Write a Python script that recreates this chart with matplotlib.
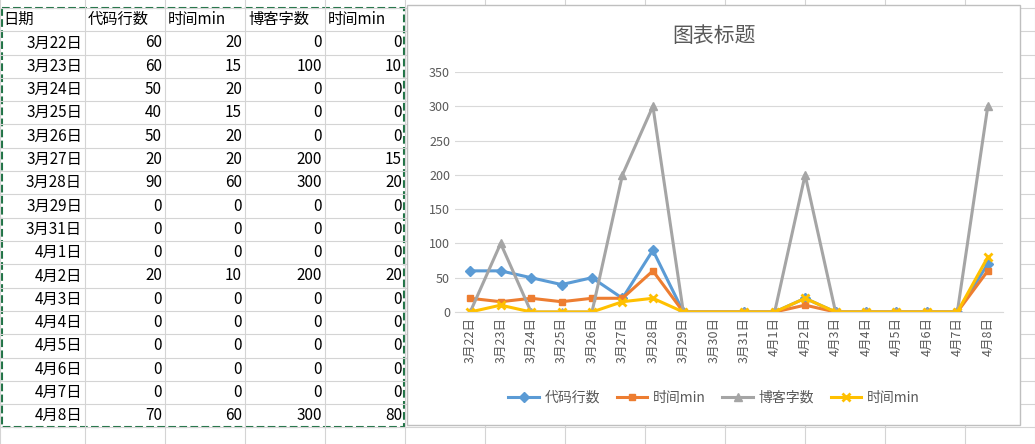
import numpy as np
import matplotlib.pyplot as plt
from matplotlib import font_manager
from matplotlib.patches import Rectangle

# find a CJK font by file in case the family name is not registered
cjk = [f for f in font_manager.findSystemFonts() if 'CJK' in f or 'cjk' in f.lower()]
fams = []
for f in cjk:
    try:
        font_manager.fontManager.addfont(f)
        fams.append(font_manager.FontProperties(fname=f).get_name())
    except Exception:
        pass
plt.rcParams['font.family'] = ['Noto Sans CJK SC', 'Noto Sans CJK JP'] + fams + ['DejaVu Sans']

headers = ['日期', '代码行数', '时间min', '博客字数', '时间min']
dates = ['3月22日', '3月23日', '3月24日', '3月25日', '3月26日', '3月27日', '3月28日', '3月29日',
         '3月31日', '4月1日', '4月2日', '4月3日', '4月4日', '4月5日', '4月6日', '4月7日', '4月8日']
code_lines = [60, 60, 50, 40, 50, 20, 90, 0, 0, 0, 20, 0, 0, 0, 0, 0, 70]
code_time = [20, 15, 20, 15, 20, 20, 60, 0, 0, 0, 10, 0, 0, 0, 0, 0, 60]
blog_words = [0, 100, 0, 0, 0, 200, 300, 0, 0, 0, 200, 0, 0, 0, 0, 0, 300]
blog_time = [0, 10, 0, 0, 0, 15, 20, 0, 0, 0, 20, 0, 0, 0, 0, 0, 80]
axis_labels = ['3月22日', '3月23日', '3月24日', '3月25日', '3月26日', '3月27日', '3月28日', '3月29日',
               '3月30日', '3月31日', '4月1日', '4月2日', '4月3日', '4月4日', '4月5日', '4月6日',
               '4月7日', '4月8日']

W, H = 1035, 444
fig = plt.figure(figsize=(W / 100, H / 100), dpi=100)
bg = fig.add_axes([0, 0, 1, 1])
bg.set_xlim(0, W)
bg.set_ylim(H, 0)
bg.axis('off')

# spreadsheet grid
col_x = [0, 85, 165, 245, 325, 405, 485, 565, 645, 725, 805, 885, 965, 1035]
row_h = 23.3
for x in col_x:
    bg.plot([x, x], [0, H], color='#d4d4d4', lw=0.8)
for i in range(20):
    y = 8 + i * row_h
    bg.plot([0, W], [y, y], color='#d4d4d4', lw=0.8)

# table text
for j, h in enumerate(headers):
    bg.text(col_x[j] + 3, 8 + row_h / 2, h, ha='left', va='center', fontsize=11)
cols = [code_lines, code_time, blog_words, blog_time]
for i, d in enumerate(dates):
    yc = 8 + (i + 1.5) * row_h
    bg.text(col_x[1] - 3, yc, d, ha='right', va='center', fontsize=11)
    for j, c in enumerate(cols):
        bg.text(col_x[j + 2] - 3, yc, str(c[i]), ha='right', va='center', fontsize=11)
bg.add_patch(Rectangle((2, 8), 402, 18 * row_h, fill=False, ec='#217346', lw=1.5, ls='--'))

# chart panel
bg.add_patch(Rectangle((407, 5), 613, 420, fc='white', ec='#bfbfbf', lw=1, zorder=3))
bg.text(714, 36, '图表标题', ha='center', va='center', fontsize=15, color='#595959', zorder=4)

ax = fig.add_axes([455 / W, 1 - 312 / H, 548 / W, 240 / H], zorder=5)
ax.patch.set_alpha(0)
x = [axis_labels.index(d) for d in dates]
series = [(code_lines, '代码行数', '#5B9BD5', 'D', 5),
          (code_time, '时间min', '#ED7D31', 's', 5),
          (blog_words, '博客字数', '#A5A5A5', '^', 6),
          (blog_time, '时间min', '#FFC000', 'x', 6)]
for vals, name, c, m, ms in series:
    ax.plot(x, vals, color=c, marker=m, ms=ms, lw=2.2, label=name, mew=2 if m == 'x' else 1)
ax.set_xlim(-0.5, 17.5)
ax.set_ylim(0, 350)
ax.set_yticks(range(0, 351, 50))
ax.set_xticks(range(len(axis_labels)))
ax.set_xticklabels(axis_labels, rotation=90, fontsize=9, color='#595959')
ax.tick_params(axis='y', labelsize=9, labelcolor='#595959', length=0)
ax.tick_params(axis='x', length=0)
ax.grid(axis='y', color='#d9d9d9', lw=0.8)
ax.set_axisbelow(True)
for s in ['top', 'right', 'left']:
    ax.spines[s].set_visible(False)
ax.spines['bottom'].set_color('#d9d9d9')
fig.legend(loc='center', bbox_to_anchor=(714 / W, 1 - 398 / H), ncol=4, frameon=False,
           fontsize=10, labelcolor='#595959', handlelength=2.2, handletextpad=0.4,
           columnspacing=1.2)

fig.savefig('out.png', dpi=100)
